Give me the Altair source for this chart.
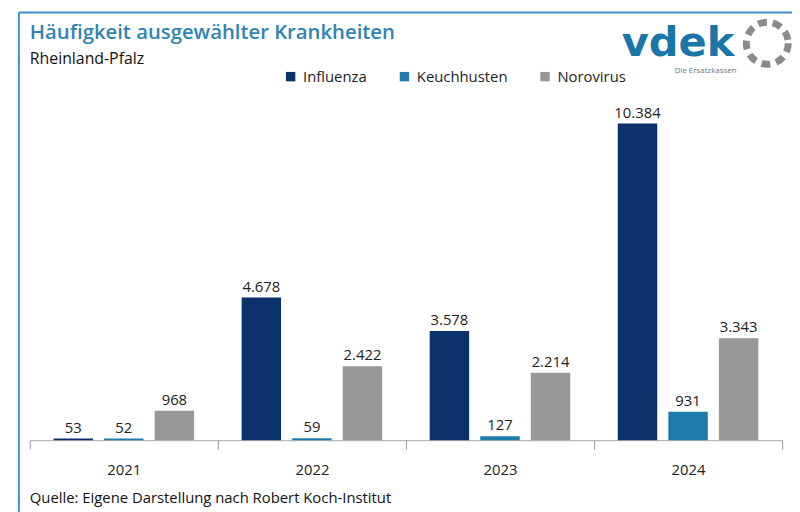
import altair as alt
import pandas as pd

years = ["2021", "2022", "2023", "2024"]
diseases = ["Influenza", "Keuchhusten", "Norovirus"]
influenza = [53, 4678, 3578, 10384]
keuchhusten = [52, 59, 127, 931]
norovirus = [968, 2422, 2214, 3343]
colors = ["#0b306b", "#1f7bab", "#979797"]

rows = []
for i, y in enumerate(years):
    for d, vals in zip(diseases, [influenza, keuchhusten, norovirus]):
        v = vals[i]
        rows.append({"year": y, "disease": d, "value": v,
                     "label": f"{v:,}".replace(",", ".")})
df = pd.DataFrame(rows)

FONT = "Open Sans"
W, H = 760, 342

x = alt.X("year:N", sort=years,
          scale=alt.Scale(paddingInner=0, paddingOuter=0),
          axis=alt.Axis(title=None, labelAngle=0, tickBand="extent",
                        domainColor="#aaaaaa", tickColor="#999999", tickSize=9,
                        labelFont=FONT, labelFontSize=15, labelColor="#222222",
                        labelPadding=14, domainWidth=1, grid=False))
xo = alt.XOffset("disease:N", sort=diseases,
                 scale=alt.Scale(paddingInner=0.22, paddingOuter=0.47))
y = alt.Y("value:Q", scale=alt.Scale(domain=[0, 11100]), axis=None)

bars = alt.Chart(df).mark_bar().encode(
    x=x, xOffset=xo, y=y,
    color=alt.Color("disease:N", sort=diseases,
                    scale=alt.Scale(domain=diseases, range=colors),
                    legend=alt.Legend(title=None, orient="none", direction="horizontal",
                                      legendX=256, legendY=-33, symbolType="square",
                                      symbolSize=90, symbolStrokeWidth=0,
                                      labelFont=FONT, labelFontSize=15,
                                      labelColor="#222222", columnPadding=30,
                                      symbolOffset=0, labelOffset=5)),
)
labels = alt.Chart(df).mark_text(baseline="alphabetic", dy=-6, font=FONT,
                                 fontSize=15, color="#222222").encode(
    x=x, xOffset=xo, y=y, text="label:N")

one = pd.DataFrame({"k": [0]})
base = alt.Chart(one)
title = base.mark_text(align="left", baseline="alphabetic", font=FONT, fontSize=20.5,
                       fontWeight=600, color="#2e84b6").encode(
    x=alt.value(0), y=alt.value(-63), text=alt.value("Häufigkeit ausgewählter Krankheiten"))
subtitle = base.mark_text(align="left", baseline="alphabetic", font=FONT, fontSize=16,
                          color="#111111").encode(
    x=alt.value(0), y=alt.value(-38), text=alt.value("Rheinland-Pfalz"))
source = base.mark_text(align="left", baseline="alphabetic", font=FONT, fontSize=15,
                        color="#111111").encode(
    x=alt.value(0), y=alt.value(405), text=alt.value("Quelle: Eigene Darstellung nach Robert Koch-Institut"))
logo = base.mark_text(align="left", baseline="alphabetic", font="DejaVu Sans",
                      fontSize=42, fontWeight="bold", color="#1a75a8").encode(
    x=alt.value(598), y=alt.value(-46), text=alt.value("vdek"))
logo_sub = base.mark_text(align="right", baseline="alphabetic", font=FONT,
                          fontSize=8, color="#777777").encode(
    x=alt.value(714), y=alt.value(-29), text=alt.value("Die Ersatzkassen"))
ring = base.mark_point(shape="circle", filled=False, size=1800, strokeWidth=7,
                       strokeDash=[9, 6.0], color="#8a8a8a", opacity=1).encode(
    x=alt.value(745), y=alt.value(-59))
top_line = base.mark_rule(color="#3a90c8", strokeWidth=2).encode(
    x=alt.value(-11), x2=alt.value(780), y=alt.value(-90))
left_line = base.mark_rule(color="#3a90c8", strokeWidth=2).encode(
    x=alt.value(-11), y=alt.value(-90), y2=alt.value(420))

chart = alt.layer(top_line, left_line, bars, labels, title, subtitle, source,
                  logo, logo_sub, ring).properties(
    width=W, height=H,
    autosize=alt.AutoSizeParams(type="none"),
    padding={"left": 22, "top": 92, "right": 10, "bottom": 70},
).configure(background="white").configure_view(stroke=None, strokeWidth=0)

chart.save("out.html", embed_options={"renderer": "svg", "actions": False})
